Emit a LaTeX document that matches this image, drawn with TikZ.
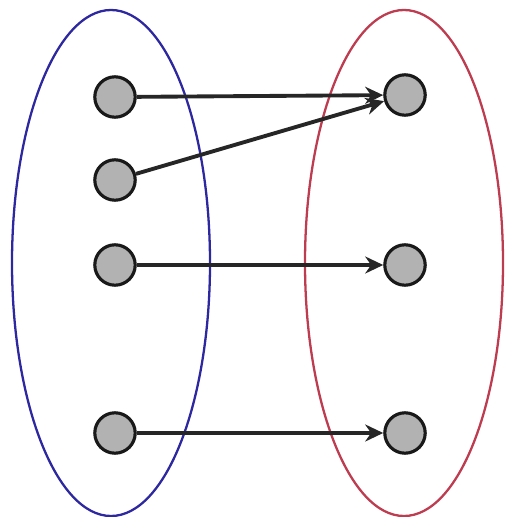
\documentclass[tikz,border=0pt]{standalone}
\usetikzlibrary{arrows.meta}
\tikzset{
  point/.style={circle, minimum size=23, inner sep=0pt, draw=black!90, line width=1.8pt, fill=gray!60},
  arrow/.style={-{Stealth[length=0.36cm, width=0.34cm]}, line width=2.2pt, black!85},
  set/.style={line width=1.3pt, draw=#1},
}
\definecolor{domainblue}{RGB}{45,40,160}
\definecolor{rangered}{RGB}{190,60,80}

\begin{document}
\begin{tikzpicture}[x=0.02cm, y=-0.02cm]
\useasboundingbox (0,0) rectangle (509,517);

% Domain and codomain
\draw[set=domainblue] (111,263) ellipse (99 and 253);
\draw[set=rangered] (404,263) ellipse (99 and 253);

% Elements on the left
\foreach \n/\y in {1/97, 2/180, 3/265, 4/433}
  \node[point] (l\n) at (115,\y) {};

% Elements on the right
\foreach \n/\y in {1/95, 2/265, 3/433}
  \node[point] (r\n) at (405,\y) {};

% Mapping
\draw[arrow] (l1) -- (r1);
\draw[arrow] (l2) -- (r1);
\draw[arrow] (l3) -- (r2);
\draw[arrow] (l4) -- (r3);

\end{tikzpicture}
\end{document}
